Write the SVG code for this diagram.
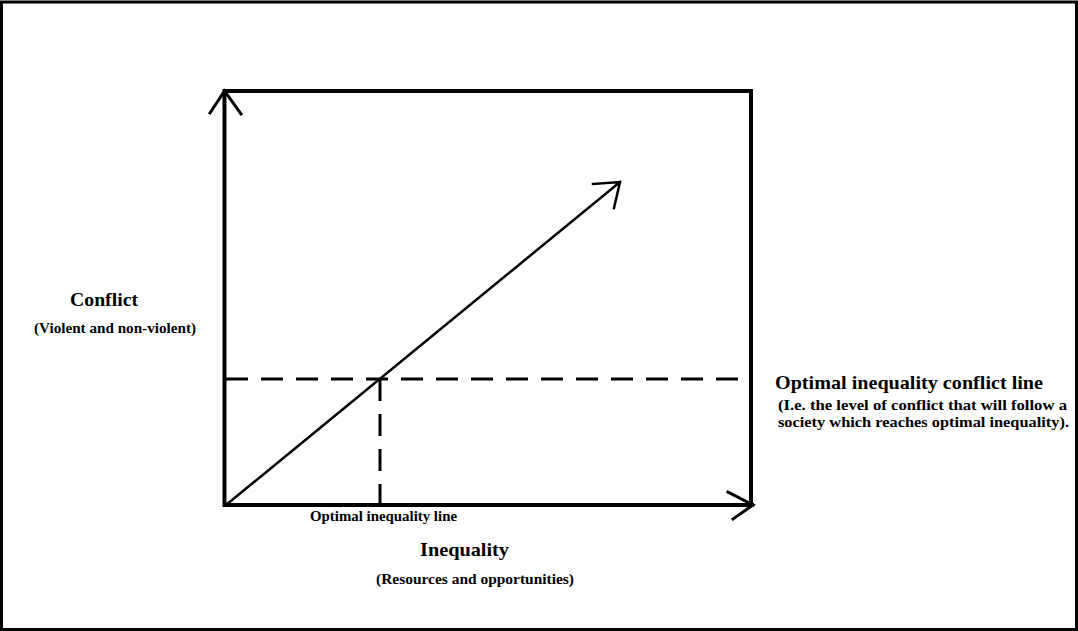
<svg xmlns="http://www.w3.org/2000/svg" width="1078" height="631" viewBox="0 0 1078 631">
<style>
.big{font-family:"Liberation Serif","Times New Roman",serif;font-weight:bold;font-size:19.5px;fill:#000}
.small{font-family:"Liberation Serif","Times New Roman",serif;font-weight:bold;font-size:14px;fill:#000}
.ln{stroke:#000;fill:none;stroke-linecap:square}
.dash{stroke:#000;fill:none;stroke-width:3;stroke-dasharray:22 13}
</style>
<rect x="0" y="0" width="1078" height="631" fill="#fff"/>
<rect x="1.5" y="2" width="1075" height="627.5" fill="none" stroke="#000" stroke-width="3"/>
<g id="connectors">
<path class="ln" stroke-width="4" d="M224.5 91 V505 M224.5 91 H751 V505 M224.5 505 H752"/>
<path class="ln" stroke-width="3" d="M210 113 L224.5 91 L241 114"/>
<path class="ln" stroke-width="3" d="M728 492 L753 505 L733 519"/>
<path class="ln" stroke-width="2.5" d="M226 505 L620 182 M593 184 L620 182 L614 208"/>
<path class="dash" d="M226 379 H751"/>
<path class="dash" d="M380 379 V505"/>
</g>
<g id="y-axis-label">
<text class="big" x="104" y="306" text-anchor="middle" textLength="68" lengthAdjust="spacingAndGlyphs">Conflict</text>
<text class="small" x="115" y="333" text-anchor="middle" textLength="162" lengthAdjust="spacingAndGlyphs">(Violent and non-violent)</text>
</g>
<g id="conflict-line-label">
<text class="big" x="775" y="389" textLength="268" lengthAdjust="spacingAndGlyphs">Optimal inequality conflict line</text>
<text class="small" x="778" y="410" textLength="289" lengthAdjust="spacingAndGlyphs">(I.e. the level of conflict that will follow a</text>
<text class="small" x="778" y="427" textLength="291" lengthAdjust="spacingAndGlyphs">society which reaches optimal inequality).</text>
</g>
<g id="inequality-line-label">
<text class="small" x="310" y="521" textLength="147" lengthAdjust="spacingAndGlyphs">Optimal inequality line</text>
</g>
<g id="x-axis-label">
<text class="big" x="420" y="556" textLength="89" lengthAdjust="spacingAndGlyphs">Inequality</text>
<text class="small" x="376" y="584" textLength="198" lengthAdjust="spacingAndGlyphs">(Resources and opportunities)</text>
</g>
</svg>
